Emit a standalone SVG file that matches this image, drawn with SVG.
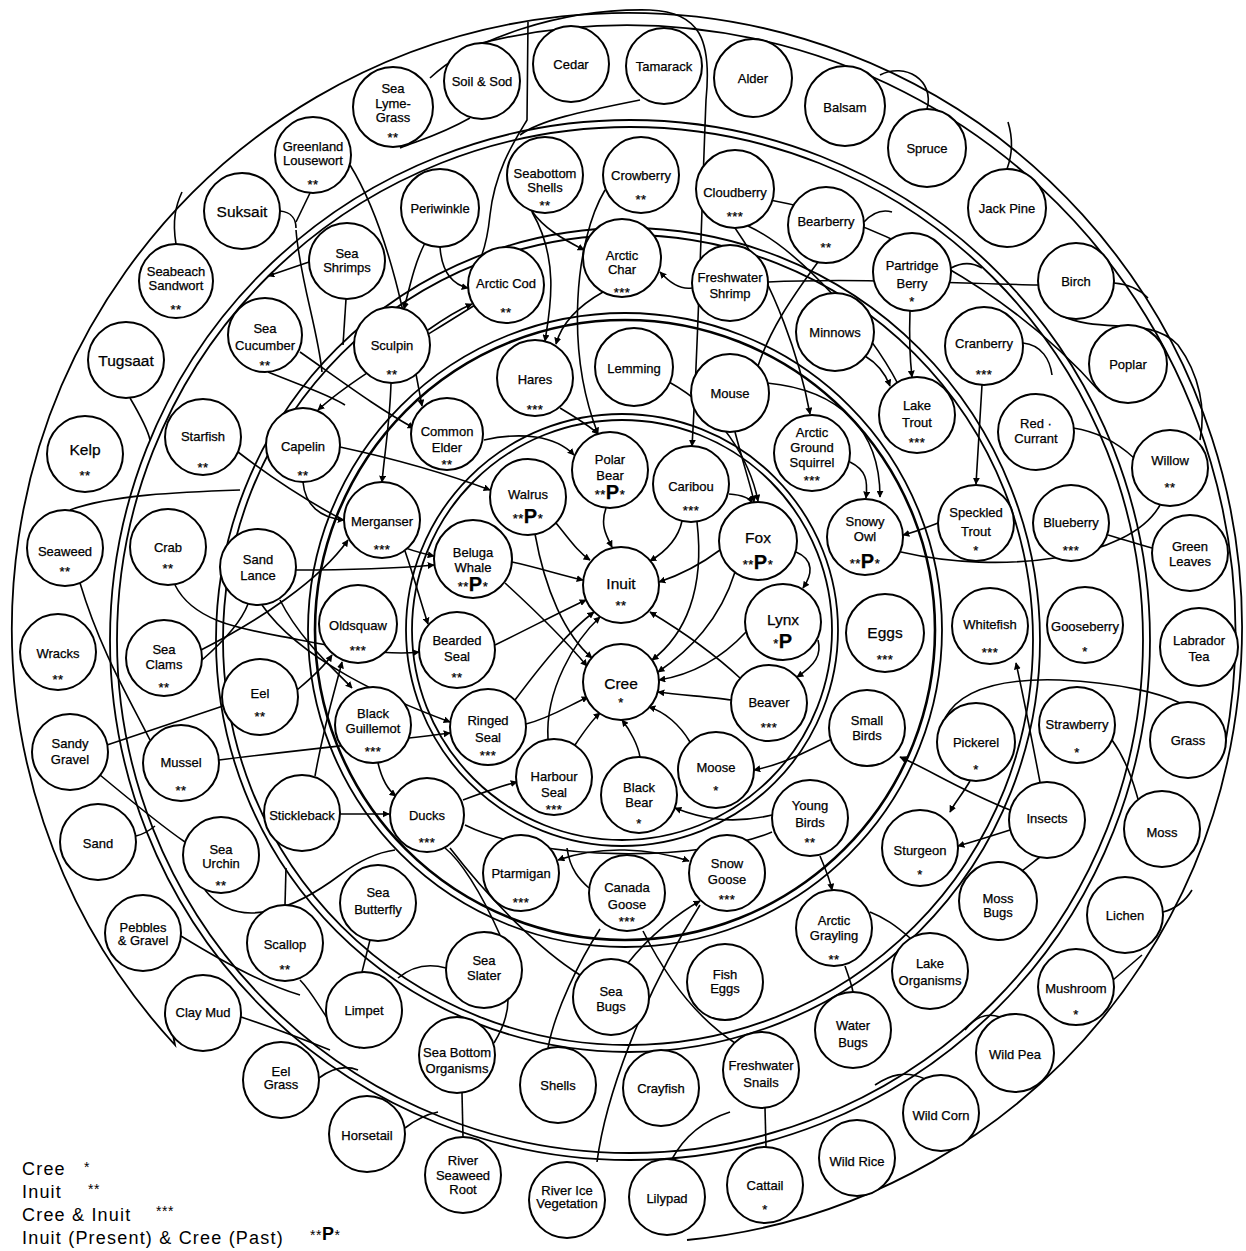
<svg xmlns="http://www.w3.org/2000/svg" width="1246" height="1251" viewBox="0 0 1246 1251">
<style>
.bg{fill:#fff}
.ring{fill:none;stroke:#000;stroke-width:1.8}
.thick{fill:none;stroke:#000;stroke-width:2.6}
.c path{fill:none;stroke:#000;stroke-width:1.6}
.c path.a{marker-end:url(#ar)}
.c path.aa{marker-end:url(#ar);marker-start:url(#ar)}
.n circle{fill:#fff;stroke:#000;stroke-width:2}
.n text{font-family:"Liberation Sans",Arial,sans-serif;font-size:13px;text-anchor:middle;fill:#000;stroke:#000;stroke-width:0.25}
.n text.b{font-size:15.5px}
.n text.s{font-size:13px;letter-spacing:0.5px}
tspan.p{font-size:20px;font-weight:bold}
.lg text{font-family:"Liberation Sans",Arial,sans-serif;font-size:18px;letter-spacing:1.2px;fill:#000}
.lg text.s{font-size:14px;letter-spacing:0.5px}
</style>
<defs>
<marker id="ar" viewBox="0 0 10 10" refX="9" refY="5" markerWidth="7" markerHeight="7" markerUnits="userSpaceOnUse" orient="auto-start-reverse"><path d="M0,0 L10,5 L0,10 z" fill="#000"/></marker>
</defs>
<rect class="bg" x="0" y="0" width="1246" height="1251"/>

<g id="rings">
<path class="ring" d="M687,1240 A615,615 0 1 0 175,1045 L172,1030"/>
<path class="ring" d="M470,46 A608,608 0 0 1 1225,745"/>
<circle class="ring" cx="630" cy="640" r="513"/>
<circle class="ring" cx="630" cy="640" r="520"/>
<circle class="ring" cx="628" cy="640" r="405"/>
<circle class="ring" cx="628" cy="640" r="412"/>
<circle class="thick" cx="625" cy="630" r="310"/>
<circle class="ring" cx="625" cy="630" r="317"/>
<circle class="ring" cx="622" cy="630" r="210"/>
<circle class="ring" cx="622" cy="630" r="216"/>
</g>

<g id="connectors" class="c">
<path class="a" d="M606,508 C600,525 606,535 612,547"/>
<path class="a" d="M556,523 C570,540 578,552 590,560"/>
<path class="a" d="M512,562 C540,568 560,575 583,580"/>
<path class="a" d="M682,521 C678,540 665,552 650,561"/>
<path class="a" d="M720,550 C700,565 680,575 659,582"/>
<path class="a" d="M495,645 C530,628 560,612 586,600"/>
<path class="a" d="M515,700 C545,660 570,630 594,612"/>
<path class="a" d="M548,739 C545,690 575,640 600,617"/>
<path class="a" d="M740,678 C710,650 680,630 650,612"/>
<path class="a" d="M535,534 C545,590 565,635 592,658"/>
<path class="a" d="M505,583 C540,615 565,640 587,666"/>
<path class="a" d="M697,522 C705,590 685,635 652,660"/>
<path class="a" d="M735,572 C720,620 690,650 658,672"/>
<path class="a" d="M746,632 C720,660 690,675 659,680"/>
<path class="a" d="M731,700 C710,697 680,695 658,692"/>
<path class="a" d="M690,742 C680,725 665,712 649,707"/>
<path class="a" d="M640,757 C638,745 630,730 622,720"/>
<path class="a" d="M526,724 C550,718 568,706 588,697"/>
<path class="a" d="M575,745 C585,730 592,720 600,713"/>
<path class="a" d="M729,494 C742,495 750,498 752,503"/>
<path class="a" d="M796,552 C815,560 812,575 803,588"/>
<path class="a" d="M818,640 C822,655 815,665 797,677"/>
<path class="a" d="M484,440 C520,432 555,435 574,455"/>
<path class="a" d="M669,382 C720,410 750,460 758,501"/>
<path class="a" d="M560,408 C580,420 592,428 598,434"/>
<path class="a" d="M850,462 C866,470 868,480 866,498"/>
<path class="a" d="M767,383 C840,390 880,430 880,497"/>
<path class="a" d="M938,523 C925,528 915,532 903,535"/>
<path class="a" d="M735,432 C745,470 752,490 754,502"/>
<path class="a" d="M430,78 C470,40 560,8 650,10 C700,12 712,40 706,100 C702,200 698,350 692,446"/>
<path class="a" d="M605,190 C575,240 565,350 598,434"/>
<path class="a" d="M830,740 C800,755 780,765 754,770"/>
<path class="a" d="M772,815 C730,825 700,818 675,808"/>
<path class="a" d="M463,800 C490,790 505,785 517,782"/>
<path class="a" d="M303,482 C305,505 320,518 344,520"/>
<path class="a" d="M340,447 C400,460 450,475 490,490"/>
<path class="a" d="M238,452 C300,500 380,545 434,556"/>
<path class="a" d="M296,570 C350,570 400,568 434,565"/>
<path class="a" d="M262,605 C300,660 390,700 450,722"/>
<path class="a" d="M201,650 C260,620 320,580 348,540"/>
<path class="a" d="M175,585 C195,625 250,630 300,640 C360,652 395,655 419,652"/>
<path class="a" d="M219,760 C300,750 380,742 450,733"/>
<path d="M107,745 L223,706"/>
<path d="M80,583 C100,650 130,700 150,740"/>
<path class="a" d="M378,763 C382,780 388,790 396,796"/>
<path class="a" d="M340,814 L389,814"/>
<path class="a" d="M297,690 C315,675 325,665 332,655"/>
<path class="a" d="M315,776 C325,720 335,690 342,662"/>
<path class="a" d="M405,551 C415,580 420,600 428,624"/>
<path d="M450,848 C490,900 540,950 580,975"/>
<path class="aa" d="M689,861 C650,848 600,845 558,860"/>
<path d="M567,848 C570,870 580,880 589,888"/>
<path class="a" d="M628,963 C650,935 680,912 700,901"/>
<path d="M597,1162 C605,1100 640,1000 700,905"/>
<path d="M643,931 C670,985 700,1020 735,1043"/>
<path d="M600,929 C580,960 555,1010 548,1048"/>
<path d="M465,825 C540,862 700,862 772,832"/>
<path class="a" d="M1010,810 C960,790 930,770 900,757"/>
<path class="a" d="M1010,830 C985,838 972,842 958,846"/>
<path class="a" d="M970,781 C962,795 955,802 950,812"/>
<path class="a" d="M1040,782 C1030,730 1022,690 1016,663"/>
<path d="M945,718 C960,690 1000,678 1060,680 C1120,683 1160,693 1180,703"/>
<path d="M1112,740 C1130,765 1135,790 1138,799"/>
<path d="M1160,505 C1130,560 1000,575 901,552"/>
<path d="M1108,535 C1125,540 1140,545 1152,548"/>
<path d="M1073,428 C1100,432 1120,445 1134,458"/>
<path class="a" d="M982,385 C980,420 978,450 976,484"/>
<path class="a" d="M865,356 C880,365 886,375 890,386"/>
<path class="a" d="M910,311 C909,340 910,360 912,377"/>
<path d="M748,226 C800,250 870,330 898,384"/>
<path class="a" d="M735,228 C775,285 800,360 810,414"/>
<path d="M818,262 C790,300 770,330 758,366"/>
<path class="a" d="M692,288 C680,290 670,283 660,272"/>
<path d="M768,282 C850,278 950,283 1038,285"/>
<path class="a" d="M603,292 C580,305 562,322 556,344"/>
<path class="a" d="M531,210 C545,230 565,240 584,250"/>
<path class="a" d="M440,247 C442,275 455,285 468,288"/>
<path class="a" d="M428,330 C445,318 458,310 472,304"/>
<path class="a" d="M532,212 C560,260 550,310 545,341"/>
<path d="M640,100 C580,112 540,120 520,135"/>
<path d="M528,22 L527,120 C515,140 495,170 490,215 C487,245 480,265 470,278"/>
<path d="M470,118 C440,135 420,140 400,148"/>
<path class="a" d="M350,165 C390,230 408,330 422,406"/>
<path d="M310,193 L296,222"/>
<path d="M280,211 C292,212 296,220 296,228"/>
<path d="M176,244 C172,220 176,205 182,192"/>
<path class="a" d="M309,262 L268,276"/>
<path d="M346,299 L343,345"/>
<path d="M296,230 C300,280 318,330 322,372"/>
<path class="a" d="M391,383 C390,420 385,450 382,482"/>
<path class="a" d="M300,352 C340,380 380,410 414,428"/>
<path d="M268,372 C300,385 330,395 345,405"/>
<path d="M130,398 C140,415 148,430 150,440"/>
<path d="M70,510 C110,495 180,492 240,490"/>
<path d="M927,109 C935,80 905,62 880,75"/>
<path d="M1007,169 C1014,150 1012,135 1008,122"/>
<path d="M1114,283 C1130,284 1140,290 1148,298"/>
<path d="M1060,315 C1100,335 1150,315 1178,345 C1200,375 1206,410 1200,440"/>
<path d="M864,222 C875,210 885,210 892,212"/>
<path d="M951,268 C962,262 972,262 982,268"/>
<path d="M1023,343 C1042,345 1050,360 1052,375"/>
<path d="M1163,912 C1178,908 1186,900 1192,890"/>
<path d="M1113,980 L1142,955"/>
<path d="M1000,1017 C985,1012 975,1018 965,1030"/>
<path d="M925,1079 C905,1070 890,1075 875,1085"/>
<path d="M1022,871 C1030,865 1036,860 1040,857"/>
<path d="M910,938 C895,925 885,918 870,912"/>
<path d="M672,1159 C685,1135 705,1120 730,1112"/>
<path d="M766,1147 L765,1108"/>
<path d="M463,1137 L462,1093"/>
<path d="M405,1128 C418,1118 428,1114 438,1112"/>
<path d="M319,1078 C335,1066 348,1066 358,1070"/>
<path d="M241,1017 C280,1030 310,1042 330,1050"/>
<path d="M181,936 C220,960 265,985 300,995"/>
<path d="M136,836 C145,834 150,830 155,826"/>
<path d="M100,775 C130,800 160,825 185,842"/>
<path d="M205,890 C240,935 300,905 340,875 C360,860 380,852 395,850"/>
<path d="M285,905 L286,868"/>
<path d="M362,972 L370,940"/>
<path d="M300,980 C320,1000 330,1035 360,1048"/>
<path d="M446,968 C425,962 410,968 398,978"/>
<path d="M494,1043 C505,1025 508,1012 508,1000"/>
<path class="a" d="M475,305 C420,340 350,380 318,410"/>
<path class="a" d="M425,243 C415,262 410,285 404,309"/>
<path class="a" d="M280,600 C300,640 335,670 352,688"/>
<path d="M202,660 C225,640 242,620 248,604"/>
<path d="M770,200 C880,220 1010,290 1100,392"/>
<path d="M500,935 C480,890 460,860 445,848"/>
<path class="a" d="M820,856 C826,870 830,880 832,890"/>
<path d="M845,966 C850,980 852,986 853,992"/>
</g>

<g id="nodes" class="n">
<g id="sea-lyme-grass"><circle cx="393" cy="107" r="40"/><text x="393" y="93">Sea</text><text x="393" y="108">Lyme-</text><text x="393" y="122">Grass</text><text class="s" x="393" y="142">**</text></g>
<g id="soil-sod"><circle cx="482" cy="81" r="38"/><text x="482" y="86">Soil &amp; Sod</text></g>
<g id="cedar"><circle cx="571" cy="64" r="38"/><text x="571" y="69">Cedar</text></g>
<g id="tamarack"><circle cx="664" cy="66" r="38"/><text x="664" y="71">Tamarack</text></g>
<g id="alder"><circle cx="753" cy="78" r="39"/><text x="753" y="83">Alder</text></g>
<g id="balsam"><circle cx="845" cy="106" r="40"/><text x="845" y="112">Balsam</text></g>
<g id="spruce"><circle cx="927" cy="148" r="39"/><text x="927" y="153">Spruce</text></g>
<g id="jack-pine"><circle cx="1007" cy="208" r="39"/><text x="1007" y="213">Jack Pine</text></g>
<g id="birch"><circle cx="1076" cy="281" r="38"/><text x="1076" y="286">Birch</text></g>
<g id="poplar"><circle cx="1128" cy="364" r="39"/><text x="1128" y="369">Poplar</text></g>
<g id="willow"><circle cx="1170" cy="468" r="38"/><text x="1170" y="465">Willow</text><text class="s" x="1170" y="492">**</text></g>
<g id="green-leaves"><circle cx="1190" cy="553" r="38"/><text x="1190" y="551">Green</text><text x="1190" y="566">Leaves</text></g>
<g id="labrador-tea"><circle cx="1199" cy="647" r="39"/><text x="1199" y="645">Labrador</text><text x="1199" y="661">Tea</text></g>
<g id="grass"><circle cx="1188" cy="740" r="38"/><text x="1188" y="745">Grass</text></g>
<g id="moss"><circle cx="1162" cy="829" r="38"/><text x="1162" y="837">Moss</text></g>
<g id="lichen"><circle cx="1125" cy="915" r="38"/><text x="1125" y="920">Lichen</text></g>
<g id="mushroom"><circle cx="1076" cy="987" r="38"/><text x="1076" y="993">Mushroom</text><text class="s" x="1076" y="1019">*</text></g>
<g id="wild-pea"><circle cx="1015" cy="1053" r="39"/><text x="1015" y="1059">Wild Pea</text></g>
<g id="wild-corn"><circle cx="941" cy="1113" r="38"/><text x="941" y="1120">Wild Corn</text></g>
<g id="wild-rice"><circle cx="857" cy="1158" r="38"/><text x="857" y="1166">Wild Rice</text></g>
<g id="cattail"><circle cx="765" cy="1185" r="38"/><text x="765" y="1190">Cattail</text><text class="s" x="765" y="1214">*</text></g>
<g id="lilypad"><circle cx="667" cy="1197" r="38"/><text x="667" y="1203">Lilypad</text></g>
<g id="river-ice-vegetation"><circle cx="567" cy="1200" r="38"/><text x="567" y="1195">River Ice</text><text x="567" y="1208">Vegetation</text></g>
<g id="river-seaweed-root"><circle cx="463" cy="1175" r="38"/><text x="463" y="1165">River</text><text x="463" y="1180">Seaweed</text><text x="463" y="1194">Root</text></g>
<g id="horsetail"><circle cx="367" cy="1134" r="38"/><text x="367" y="1140">Horsetail</text></g>
<g id="eel-grass"><circle cx="281" cy="1080" r="38"/><text x="281" y="1076">Eel</text><text x="281" y="1089">Grass</text></g>
<g id="clay-mud"><circle cx="203" cy="1013" r="38"/><text x="203" y="1017">Clay Mud</text></g>
<g id="pebbles-gravel"><circle cx="143" cy="933" r="38"/><text x="143" y="932">Pebbles</text><text x="143" y="945">&amp; Gravel</text></g>
<g id="sand"><circle cx="98" cy="842" r="38"/><text x="98" y="848">Sand</text></g>
<g id="sandy-gravel"><circle cx="70" cy="752" r="38"/><text x="70" y="748">Sandy</text><text x="70" y="764">Gravel</text></g>
<g id="wracks"><circle cx="58" cy="652" r="38"/><text x="58" y="658">Wracks</text><text class="s" x="58" y="684">**</text></g>
<g id="seaweed"><circle cx="65" cy="548" r="38"/><text x="65" y="556">Seaweed</text><text class="s" x="65" y="576">**</text></g>
<g id="kelp"><circle cx="85" cy="454" r="38"/><text class="b" x="85" y="455">Kelp</text><text class="s" x="85" y="480">**</text></g>
<g id="tugsaat"><circle cx="126" cy="360" r="38"/><text class="b" x="126" y="366">Tugsaat</text></g>
<g id="seabeach-sandwort"><circle cx="176" cy="281" r="37"/><text x="176" y="276">Seabeach</text><text x="176" y="290">Sandwort</text><text class="s" x="176" y="314">**</text></g>
<g id="suksait"><circle cx="242" cy="211" r="38"/><text class="b" x="242" y="217">Suksait</text></g>
<g id="greenland-lousewort"><circle cx="313" cy="155" r="38"/><text x="313" y="151">Greenland</text><text x="313" y="165">Lousewort</text><text class="s" x="313" y="189">**</text></g>

<g id="periwinkle"><circle cx="440" cy="208" r="39"/><text x="440" y="213">Periwinkle</text></g>
<g id="seabottom-shells"><circle cx="545" cy="175" r="38"/><text x="545" y="178">Seabottom</text><text x="545" y="192">Shells</text><text class="s" x="545" y="210">**</text></g>
<g id="crowberry"><circle cx="641" cy="175" r="38"/><text x="641" y="180">Crowberry</text><text class="s" x="641" y="204">**</text></g>
<g id="cloudberry"><circle cx="735" cy="189" r="39"/><text x="735" y="197">Cloudberry</text><text class="s" x="735" y="221">***</text></g>
<g id="bearberry"><circle cx="826" cy="225" r="38"/><text x="826" y="226">Bearberry</text><text class="s" x="826" y="252">**</text></g>
<g id="partridge-berry"><circle cx="912" cy="272" r="39"/><text x="912" y="270">Partridge</text><text x="912" y="288">Berry</text><text class="s" x="912" y="306">*</text></g>
<g id="cranberry"><circle cx="984" cy="346" r="39"/><text x="984" y="348">Cranberry</text><text class="s" x="984" y="379">***</text></g>
<g id="red-currant"><circle cx="1036" cy="432" r="38"/><text x="1036" y="428">Red ·</text><text x="1036" y="443">Currant</text></g>
<g id="blueberry"><circle cx="1071" cy="523" r="38"/><text x="1071" y="527">Blueberry</text><text class="s" x="1071" y="555">***</text></g>
<g id="gooseberry"><circle cx="1085" cy="625" r="38"/><text x="1085" y="631">Gooseberry</text><text class="s" x="1085" y="656">*</text></g>
<g id="strawberry"><circle cx="1077" cy="725" r="38"/><text x="1077" y="729">Strawberry</text><text class="s" x="1077" y="757">*</text></g>
<g id="insects"><circle cx="1047" cy="820" r="38"/><text x="1047" y="823">Insects</text></g>
<g id="moss-bugs"><circle cx="998" cy="901" r="39"/><text x="998" y="903">Moss</text><text x="998" y="917">Bugs</text></g>
<g id="lake-organisms"><circle cx="930" cy="971" r="38"/><text x="930" y="968">Lake</text><text x="930" y="985">Organisms</text></g>
<g id="water-bugs"><circle cx="853" cy="1030" r="38"/><text x="853" y="1030">Water</text><text x="853" y="1047">Bugs</text></g>
<g id="freshwater-snails"><circle cx="761" cy="1070" r="38"/><text x="761" y="1070">Freshwater</text><text x="761" y="1087">Snails</text></g>
<g id="crayfish"><circle cx="661" cy="1088" r="38"/><text x="661" y="1093">Crayfish</text></g>
<g id="shells"><circle cx="558" cy="1085" r="38"/><text x="558" y="1090">Shells</text></g>
<g id="sea-bottom-organisms"><circle cx="457" cy="1055" r="38"/><text x="457" y="1057">Sea Bottom</text><text x="457" y="1073">Organisms</text></g>
<g id="limpet"><circle cx="364" cy="1010" r="38"/><text x="364" y="1015">Limpet</text></g>
<g id="scallop"><circle cx="285" cy="943" r="38"/><text x="285" y="949">Scallop</text><text class="s" x="285" y="974">**</text></g>
<g id="sea-urchin"><circle cx="221" cy="855" r="38"/><text x="221" y="854">Sea</text><text x="221" y="868">Urchin</text><text class="s" x="221" y="890">**</text></g>
<g id="mussel"><circle cx="181" cy="763" r="38"/><text x="181" y="767">Mussel</text><text class="s" x="181" y="795">**</text></g>
<g id="sea-clams"><circle cx="164" cy="658" r="38"/><text x="164" y="654">Sea</text><text x="164" y="669">Clams</text><text class="s" x="164" y="692">**</text></g>
<g id="crab"><circle cx="168" cy="547" r="38"/><text x="168" y="552">Crab</text><text class="s" x="168" y="573">**</text></g>
<g id="starfish"><circle cx="203" cy="437" r="38"/><text x="203" y="441">Starfish</text><text class="s" x="203" y="472">**</text></g>
<g id="sea-cucumber"><circle cx="265" cy="335" r="37"/><text x="265" y="333">Sea</text><text x="265" y="350">Cucumber</text><text class="s" x="265" y="370">**</text></g>
<g id="sea-shrimps"><circle cx="347" cy="261" r="38"/><text x="347" y="258">Sea</text><text x="347" y="272">Shrimps</text></g>

<g id="arctic-cod"><circle cx="506" cy="285" r="38"/><text x="506" y="288">Arctic Cod</text><text class="s" x="506" y="317">**</text></g>
<g id="arctic-char"><circle cx="622" cy="258" r="39"/><text x="622" y="260">Arctic</text><text x="622" y="274">Char</text><text class="s" x="622" y="297">***</text></g>
<g id="freshwater-shrimp"><circle cx="730" cy="283" r="38"/><text x="730" y="282">Freshwater</text><text x="730" y="298">Shrimp</text></g>
<g id="minnows"><circle cx="835" cy="332" r="39"/><text x="835" y="337">Minnows</text></g>
<g id="lake-trout"><circle cx="917" cy="415" r="38"/><text x="917" y="410">Lake</text><text x="917" y="427">Trout</text><text class="s" x="917" y="447">***</text></g>
<g id="speckled-trout"><circle cx="976" cy="523" r="38"/><text x="976" y="517">Speckled</text><text x="976" y="536">Trout</text><text class="s" x="976" y="555">*</text></g>
<g id="whitefish"><circle cx="990" cy="626" r="38"/><text x="990" y="629">Whitefish</text><text class="s" x="990" y="657">***</text></g>
<g id="pickerel"><circle cx="976" cy="742" r="39"/><text x="976" y="747">Pickerel</text><text class="s" x="976" y="774">*</text></g>
<g id="sturgeon"><circle cx="920" cy="848" r="38"/><text x="920" y="855">Sturgeon</text><text class="s" x="920" y="879">*</text></g>
<g id="arctic-grayling"><circle cx="834" cy="928" r="38"/><text x="834" y="925">Arctic</text><text x="834" y="940">Grayling</text><text class="s" x="834" y="964">**</text></g>
<g id="fish-eggs"><circle cx="725" cy="982" r="38"/><text x="725" y="979">Fish</text><text x="725" y="993">Eggs</text></g>
<g id="sea-bugs"><circle cx="611" cy="997" r="38"/><text x="611" y="996">Sea</text><text x="611" y="1011">Bugs</text></g>
<g id="sea-slater"><circle cx="484" cy="970" r="38"/><text x="484" y="965">Sea</text><text x="484" y="980">Slater</text></g>
<g id="sea-butterfly"><circle cx="378" cy="903" r="38"/><text x="378" y="897">Sea</text><text x="378" y="914">Butterfly</text></g>
<g id="stickleback"><circle cx="302" cy="813" r="38"/><text x="302" y="820">Stickleback</text></g>
<g id="eel"><circle cx="260" cy="697" r="38"/><text x="260" y="698">Eel</text><text class="s" x="260" y="721">**</text></g>
<g id="sand-lance"><circle cx="258" cy="567" r="38"/><text x="258" y="564">Sand</text><text x="258" y="580">Lance</text></g>
<g id="capelin"><circle cx="303" cy="445" r="37"/><text x="303" y="451">Capelin</text><text class="s" x="303" y="480">**</text></g>
<g id="sculpin"><circle cx="392" cy="345" r="38"/><text x="392" y="350">Sculpin</text><text class="s" x="392" y="379">**</text></g>

<g id="hares"><circle cx="535" cy="378" r="38"/><text x="535" y="384">Hares</text><text class="s" x="535" y="414">***</text></g>
<g id="lemming"><circle cx="634" cy="367" r="39"/><text x="634" y="373">Lemming</text></g>
<g id="mouse"><circle cx="730" cy="393" r="39"/><text x="730" y="398">Mouse</text></g>
<g id="arctic-ground-squirrel"><circle cx="812" cy="453" r="38"/><text x="812" y="437">Arctic</text><text x="812" y="452">Ground</text><text x="812" y="467">Squirrel</text><text class="s" x="812" y="485">***</text></g>
<g id="common-elder"><circle cx="447" cy="434" r="36"/><text x="447" y="436">Common</text><text x="447" y="452">Elder</text><text class="s" x="447" y="469">**</text></g>
<g id="merganser"><circle cx="382" cy="520" r="38"/><text x="382" y="526">Merganser</text><text class="s" x="382" y="554">***</text></g>
<g id="oldsquaw"><circle cx="358" cy="624" r="39"/><text x="358" y="630">Oldsquaw</text><text class="s" x="358" y="655">***</text></g>
<g id="black-guillemot"><circle cx="373" cy="725" r="38"/><text x="373" y="718">Black</text><text x="373" y="733">Guillemot</text><text class="s" x="373" y="756">***</text></g>
<g id="ducks"><circle cx="427" cy="815" r="37"/><text x="427" y="820">Ducks</text><text class="s" x="427" y="847">***</text></g>
<g id="ptarmigan"><circle cx="521" cy="873" r="38"/><text x="521" y="878">Ptarmigan</text><text class="s" x="521" y="907">***</text></g>
<g id="canada-goose"><circle cx="627" cy="893" r="38"/><text x="627" y="892">Canada</text><text x="627" y="909">Goose</text><text class="s" x="627" y="926">***</text></g>
<g id="snow-goose"><circle cx="727" cy="873" r="38"/><text x="727" y="868">Snow</text><text x="727" y="884">Goose</text><text class="s" x="727" y="904">***</text></g>
<g id="young-birds"><circle cx="810" cy="818" r="38"/><text x="810" y="810">Young</text><text x="810" y="827">Birds</text><text class="s" x="810" y="847">**</text></g>
<g id="small-birds"><circle cx="867" cy="728" r="38"/><text x="867" y="725">Small</text><text x="867" y="740">Birds</text></g>
<g id="eggs"><circle cx="885" cy="633" r="39"/><text class="b" x="885" y="638">Eggs</text><text class="s" x="885" y="664">***</text></g>
<g id="snowy-owl"><circle cx="865" cy="537" r="38"/><text x="865" y="526">Snowy</text><text x="865" y="541">Owl</text><text class="s" x="865" y="568">**<tspan class="p">P</tspan>*</text></g>

<g id="polar-bear"><circle cx="610" cy="470" r="38"/><text x="610" y="464">Polar</text><text x="610" y="480">Bear</text><text class="s" x="610" y="499">**<tspan class="p">P</tspan>*</text></g>
<g id="walrus"><circle cx="528" cy="497" r="38"/><text x="528" y="499">Walrus</text><text class="s" x="528" y="523">**<tspan class="p">P</tspan>*</text></g>
<g id="caribou"><circle cx="691" cy="484" r="38"/><text x="691" y="491">Caribou</text><text class="s" x="691" y="515">***</text></g>
<g id="fox"><circle cx="758" cy="541" r="39"/><text class="b" x="758" y="543">Fox</text><text class="s" x="758" y="569">**<tspan class="p">P</tspan>*</text></g>
<g id="beluga-whale"><circle cx="473" cy="559" r="39"/><text x="473" y="557">Beluga</text><text x="473" y="572">Whale</text><text class="s" x="473" y="591">**<tspan class="p">P</tspan>*</text></g>
<g id="inuit"><circle cx="621" cy="585" r="38"/><text class="b" x="621" y="589">Inuit</text><text class="s" x="621" y="610">**</text></g>
<g id="bearded-seal"><circle cx="457" cy="650" r="38"/><text x="457" y="645">Bearded</text><text x="457" y="661">Seal</text><text class="s" x="457" y="682">**</text></g>
<g id="lynx"><circle cx="783" cy="622" r="38"/><text class="b" x="783" y="625">Lynx</text><text class="s" x="783" y="648">*<tspan class="p">P</tspan></text></g>
<g id="cree"><circle cx="621" cy="682" r="38"/><text class="b" x="621" y="689">Cree</text><text class="s" x="621" y="707">*</text></g>
<g id="beaver"><circle cx="769" cy="703" r="38"/><text x="769" y="707">Beaver</text><text class="s" x="769" y="732">***</text></g>
<g id="ringed-seal"><circle cx="488" cy="727" r="38"/><text x="488" y="725">Ringed</text><text x="488" y="742">Seal</text><text class="s" x="488" y="760">***</text></g>
<g id="harbour-seal"><circle cx="554" cy="777" r="38"/><text x="554" y="781">Harbour</text><text x="554" y="797">Seal</text><text class="s" x="554" y="814">***</text></g>
<g id="black-bear"><circle cx="639" cy="795" r="38"/><text x="639" y="792">Black</text><text x="639" y="807">Bear</text><text class="s" x="639" y="828">*</text></g>
<g id="moose"><circle cx="716" cy="770" r="38"/><text x="716" y="772">Moose</text><text class="s" x="716" y="795">*</text></g>
</g>

<g id="legend" class="lg">
<text x="22" y="1175">Cree</text><text class="s" x="84" y="1172">*</text>
<text x="22" y="1198">Inuit</text><text class="s" x="88" y="1194">**</text>
<text x="22" y="1221">Cree &amp; Inuit</text><text class="s" x="156" y="1216">***</text>
<text x="22" y="1244">Inuit (Present) &amp; Cree (Past)</text><text class="s" x="310" y="1240">**<tspan font-size="18" font-weight="bold">P</tspan>*</text>
</g>
</svg>
